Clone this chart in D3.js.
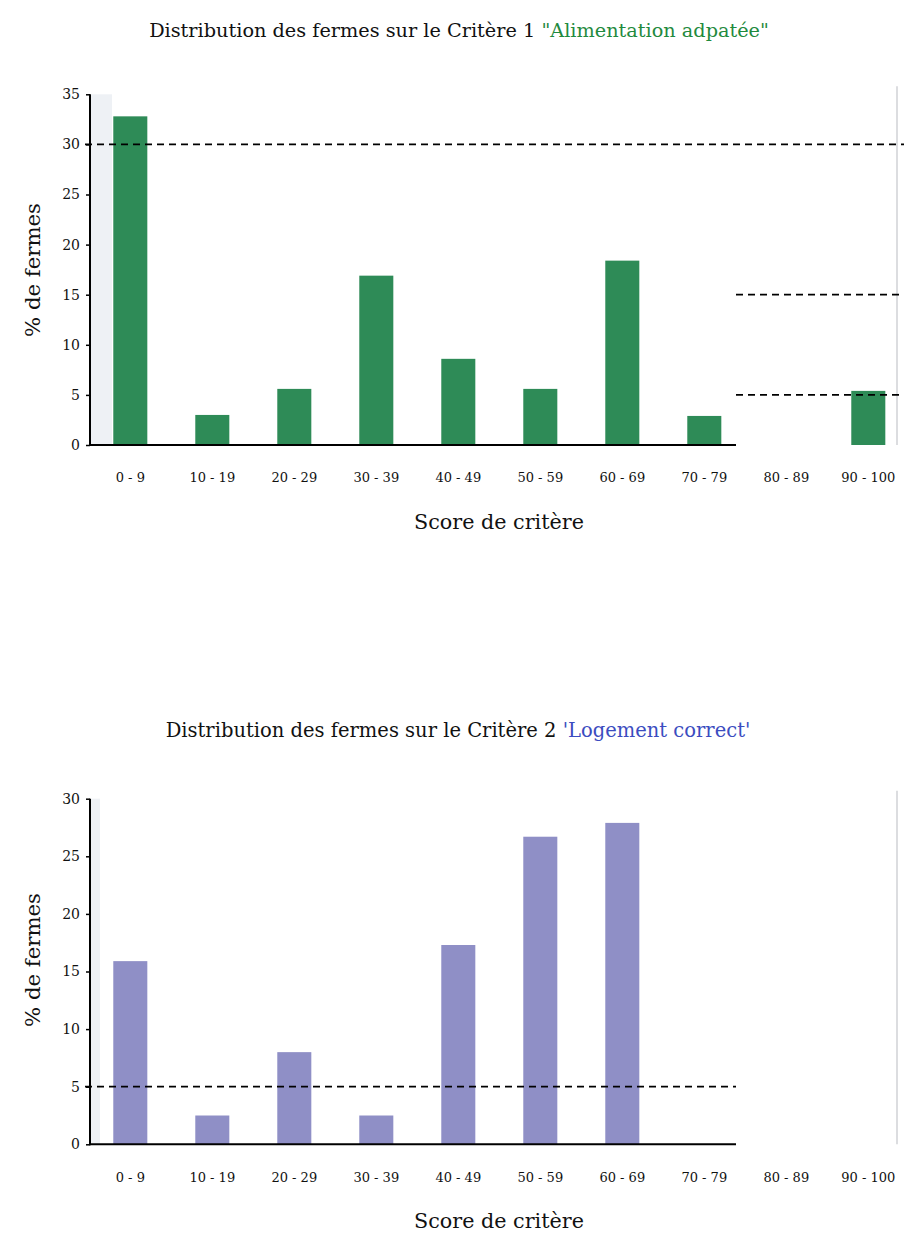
<!DOCTYPE html>
<html><head><meta charset="utf-8">
<script src="https://cdn.jsdelivr.net/npm/d3@7"></script>
<style>
html,body{margin:0;padding:0;background:#fff;}
text{font-family:"DejaVu Serif","Liberation Serif",serif;}
</style></head>
<body>
<svg id="chart" width="904" height="1236"></svg>
<script>
// ---- data ----
const categories = ["0 - 9","10 - 19","20 - 29","30 - 39","40 - 49","50 - 59","60 - 69","70 - 79","80 - 89","90 - 100"];
const critere1Values = [32.8, 3.0, 5.6, 16.9, 8.6, 5.6, 18.4, 2.9, 0, 5.4];
const critere2Values = [15.9, 2.5, 8.0, 2.5, 17.3, 26.7, 27.9, 0, 0, 0];
const critere1Ticks = [0,5,10,15,20,25,30,35];
const critere2Ticks = [0,5,10,15,20,25,30];
const critere1RefMain = [30];
const critere1RefRight = [15, 5];
const critere2RefMain = [5];
const title1Main = "Distribution des fermes sur le Critère 1 ";
const title1Name = "\"Alimentation adpatée\"";
const title2Main = "Distribution des fermes sur le Critère 2 ";
const title2Name = "'Logement correct'";
const yLabel = "% de fermes";
const xLabel = "Score de critère";

const svg = d3.select("#chart");

function fit(sel, target, base){
  const w = sel.node().getComputedTextLength();
  sel.attr("font-size", base * target / w);
}

function drawChart(cfg){
  const g = svg.append("g");
  const x0 = 90, axisEnd = 736, rightPanel = 736;
  const x = d3.scaleBand().domain(categories).range([89.3, 909.3]).paddingInner(0.585).paddingOuter(0.2925);
  const y = d3.scaleLinear().domain([0, cfg.max]).range([cfg.base, cfg.top]);

  g.append("rect").attr("x", x0+1).attr("y", y(cfg.max)).attr("width", cfg.bandW).attr("height", y(0)-y(cfg.max))
    .attr("fill", "#eef1f5");
  g.append("line").attr("x1", 897).attr("x2", 897).attr("y1", y(cfg.max)-8).attr("y2", y(0))
    .attr("stroke", "#dcdde0").attr("stroke-width", 2);

  g.selectAll("rect.bar").data(cfg.values).join("rect").attr("class","bar")
    .attr("x", (d,i)=>x(categories[i])).attr("width", x.bandwidth())
    .attr("y", d=>y(d)).attr("height", d=>y(0)-y(d)).attr("fill", cfg.color);

  g.selectAll("line.refmain").data(cfg.refMain).join("line").attr("class","refmain")
    .attr("x1", 85).attr("x2", cfg.refMainEnd).attr("y1", d=>y(d)).attr("y2", d=>y(d))
    .attr("stroke", "#000").attr("stroke-width", 1.8).attr("stroke-dasharray", "7,5");
  g.selectAll("line.refright").data(cfg.refRight).join("line").attr("class","refright")
    .attr("x1", rightPanel).attr("x2", 904).attr("y1", d=>y(d)).attr("y2", d=>y(d))
    .attr("stroke", "#000").attr("stroke-width", 1.8).attr("stroke-dasharray", "7,5");

  const ya = g.append("g").attr("transform", `translate(${x0},0)`)
    .call(d3.axisLeft(y).tickValues(cfg.ticks).tickSize(4).tickPadding(6).tickFormat(d3.format("d")));
  ya.select(".domain").remove();
  ya.selectAll("text").attr("font-size", 14).attr("font-family", "DejaVu Serif").attr("fill", "#111");
  ya.selectAll("line").attr("stroke", "#000").attr("stroke-width", 1.5);
  g.append("line").attr("x1", x0).attr("x2", x0).attr("y1", y(cfg.max)).attr("y2", y(0)+1)
    .attr("stroke", "#000").attr("stroke-width", 2);

  const xa = g.append("g").attr("transform", `translate(0,${y(0)})`)
    .call(d3.axisBottom(x).tickSize(0).tickPadding(28));
  xa.select(".domain").remove();
  xa.selectAll("text").attr("font-size", 13).attr("font-family", "DejaVu Serif").attr("fill", "#111");
  g.append("line").attr("x1", x0).attr("x2", axisEnd).attr("y1", y(0)).attr("y2", y(0))
    .attr("stroke", "#000").attr("stroke-width", 2);

  const t = g.append("text").attr("x", cfg.titleX).attr("y", cfg.titleY).attr("text-anchor","middle")
    .attr("font-size", 18);
  t.append("tspan").text(cfg.titleMain).attr("fill","#111");
  t.append("tspan").text(cfg.titleName).attr("fill", cfg.titleColor);
  fit(t, cfg.titleW, 18);

  const xl = g.append("text").attr("x", 499).attr("y", y(0)+84).attr("text-anchor","middle")
    .attr("font-size", 20).attr("fill","#111").text(xLabel);
  fit(xl, 170, 20);
  const yl = g.append("text").attr("transform", `translate(40,${cfg.yLabelY}) rotate(-90)`).attr("text-anchor","middle")
    .attr("font-size", 20).attr("fill","#111").text(yLabel);
  fit(yl, 134, 20);
}

drawChart({values: critere1Values, max: 35, ticks: critere1Ticks, base: 445, top: 94.3,
  color: "#2e8b57", refMain: critere1RefMain, refRight: critere1RefRight, refMainEnd: 904,
  titleMain: title1Main, titleName: title1Name, titleColor: "#1f8a3e", titleX: 459, titleY: 37, titleW: 620,
  yLabelY: 270, bandW: 21});
drawChart({values: critere2Values, max: 30, ticks: critere2Ticks, base: 1144.3, top: 798.7,
  color: "#8f8fc6", refMain: critere2RefMain, refRight: [], refMainEnd: 736,
  titleMain: title2Main, titleName: title2Name, titleColor: "#3b4cc0", titleX: 458, titleY: 737, titleW: 585,
  yLabelY: 960, bandW: 9});
</script>
</body></html>
